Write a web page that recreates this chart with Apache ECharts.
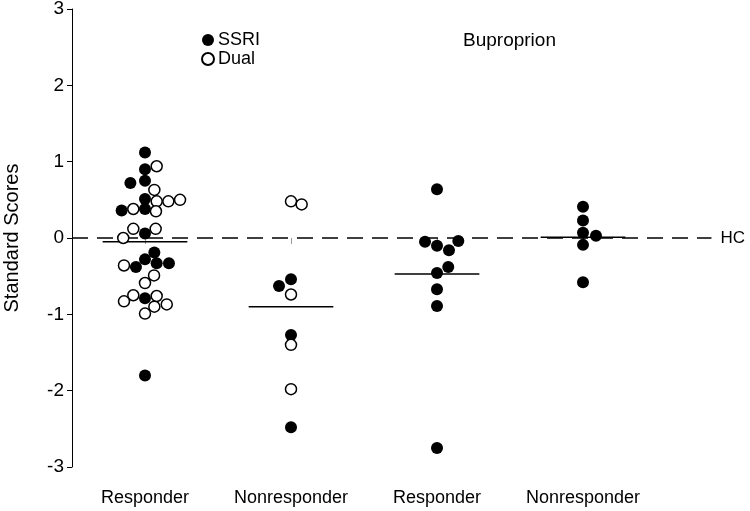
<!DOCTYPE html>
<html><head><meta charset="utf-8">
<script src="https://cdn.jsdelivr.net/npm/echarts@6/dist/echarts.min.js"></script>
<style>html,body{margin:0;padding:0;background:#fff}#c{width:750px;height:511px}</style>
</head><body><div id="c"></div>
<script>
// Categories (x positions 1..4)
const categories = ['Responder', 'Nonresponder', 'Responder', 'Nonresponder'];
const yTicks = [-3, -2, -1, 0, 1, 2, 3];

// SSRI (filled) points: [group index (1-based), jitter offset, score]
const ssriPoints = [
  [1, 0, 1.12], [1, 0, 0.90], [1, -0.10, 0.72], [1, 0, 0.75], [1, 0, 0.51],
  [1, -0.16, 0.36], [1, 0, 0.38], [1, 0, 0.06], [1, 0.064, -0.19], [1, 0, -0.28],
  [1, -0.062, -0.38], [1, 0.08, -0.33], [1, 0.164, -0.33], [1, 0, -0.79], [1, 0, -1.80],
  [2, 0, -0.54], [2, -0.082, -0.63], [2, 0, -1.27], [2, 0, -2.48]
];
// Dual (open) points
const dualPoints = [
  [1, 0.08, 0.94], [1, 0.064, 0.63], [1, 0.08, 0.48], [1, 0.16, 0.48], [1, 0.24, 0.50],
  [1, -0.08, 0.38], [1, 0.075, 0.35], [1, -0.08, 0.12], [1, 0.073, 0.12], [1, -0.149, 0.00],
  [1, -0.144, -0.36], [1, 0.062, -0.49], [1, 0, -0.59], [1, -0.08, -0.75], [1, 0.08, -0.76],
  [1, -0.144, -0.83], [1, 0.064, -0.90], [1, 0.149, -0.87], [1, 0, -0.99],
  [2, 0, 0.48], [2, 0.073, 0.44], [2, 0, -0.74], [2, 0, -1.40], [2, 0, -1.98]
];
// Bupropion (filled) points
const bupPoints = [
  [3, 0, 0.64], [3, -0.082, -0.05], [3, 0, -0.10], [3, 0.082, -0.16], [3, 0.146, -0.04],
  [3, 0.077, -0.38], [3, 0, -0.46], [3, 0, -0.67], [3, 0, -0.89], [3, 0, -2.75],
  [4, 0, 0.41], [4, 0, 0.23], [4, 0, 0.07], [4, 0.089, 0.03], [4, 0, -0.09], [4, 0, -0.58]
];
// Group means
const groupMeans = [-0.05, -0.90, -0.47, 0.01];
const hcValue = 0;

const toXY = p => [p[0] + p[1], p[2]];
const FONT = 'Liberation Sans, Arial, Helvetica, sans-serif';

const meanSeries = groupMeans.map((m, i) => ({
  type: 'line', data: [[i + 1 - 0.29, m], [i + 1 + 0.29, m]],
  symbol: 'none', silent: true, z: 1,
  lineStyle: { color: '#000', width: 1.5 }
}));

const chart = echarts.init(document.getElementById('c'));
chart.setOption({
  animation: false,
  backgroundColor: '#fff',
  textStyle: { fontFamily: FONT },
  grid: { left: 72, right: 21, top: 9, bottom: 44, containLabel: false, outerBoundsMode: 'none' },
  legend: {
    data: [{ name: 'SSRI', icon: 'circle' }, { name: 'Dual', icon: 'circle' }],
    orient: 'vertical', left: 196, top: 26, itemGap: 1,
    itemWidth: 12, itemHeight: 12,
    textStyle: { fontSize: 18, color: '#000', fontFamily: FONT, padding: [0,0,0,-1] }
  },
  graphic: [{
    type: 'text', left: 463, top: 31,
    style: { text: 'Buproprion', fontSize: 19, fill: '#000', fontFamily: FONT }
  }],
  xAxis: {
    type: 'value', min: 0.5, max: 5,
    splitLine: { show: false },
    axisLine: { show: false },
    axisTick: { show: true, customValues: [1, 2, 3, 4], length: 6, lineStyle: { color: '#999' } },
    axisLabel: {
      customValues: [1, 2, 3, 4], margin: 22, fontSize: 18, color: '#000',
      formatter: v => categories[Math.round(v) - 1] || ''
    }
  },
  yAxis: {
    type: 'value', min: -3, max: 3, interval: 1,
    name: 'Standard Scores', nameLocation: 'middle', nameGap: 50,
    nameTextStyle: { fontSize: 20, color: '#000' },
    splitLine: { show: false },
    axisLine: { show: true, lineStyle: { color: '#000', width: 1 } },
    axisTick: { show: true, length: 5, lineStyle: { color: '#000' } },
    axisLabel: { fontSize: 19, color: '#000', margin: 8, formatter: v => yTicks.includes(v) ? String(v) : '' }
  },
  series: [
    {
      type: 'line', data: [[0.5, hcValue], [4.88, hcValue]], symbol: 'none', silent: true, z: 1,
      lineStyle: { color: '#000', width: 1.5, type: [16, 9] },
      endLabel: { show: true, formatter: 'HC', fontSize: 17, color: '#000', distance: 9 }
    },
    ...meanSeries,
    {
      name: 'SSRI', type: 'scatter', data: ssriPoints.concat(bupPoints).map(toXY), symbolSize: 12, z: 3,
      itemStyle: { color: '#000', borderColor: '#000', borderWidth: 0, opacity: 1 }
    },
    {
      name: 'Dual', type: 'scatter', data: dualPoints.map(toXY), symbolSize: 11, z: 4,
      itemStyle: { color: '#fff', borderColor: '#000', borderWidth: 1.5, opacity: 1 }
    }
  ]
});
</script></body></html>
